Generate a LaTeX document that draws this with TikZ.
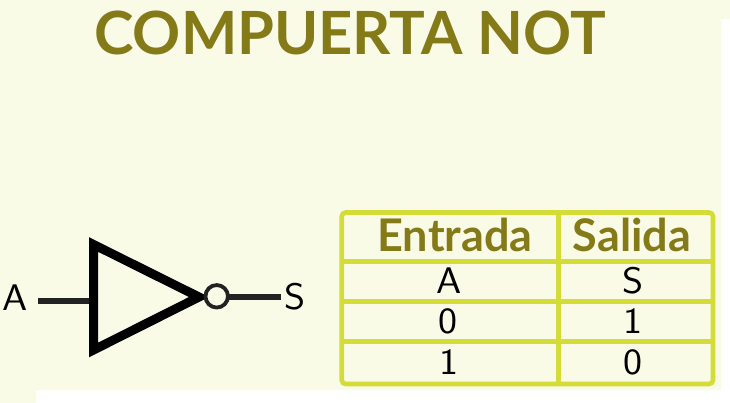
\documentclass[tikz,border=0pt]{standalone}
\usepackage{fontspec}
\newfontfamily\latofont{Lato}
\definecolor{bgcream}{HTML}{F9FBE7}
\definecolor{olive}{HTML}{857A18}
\definecolor{tableline}{HTML}{D4DC38}
\definecolor{wirecol}{HTML}{222222}
\newcommand{\cellt}[1]{\scalebox{1.09}[1]{#1}}
\tikzset{
  title/.style={inner sep=0pt,anchor=base,text=olive,font=\latofont\bfseries\fontsize{59.6}{62}\selectfont},
  header/.style={inner sep=0pt,anchor=base,text=olive,font=\latofont\bfseries\fontsize{45}{48}\selectfont},
  cell/.style={inner sep=0pt,anchor=base,text=black,font=\sffamily\fontsize{37}{39}\selectfont},
  wire/.style={draw=wirecol,line width=6pt},
  gridline/.style={draw=tableline,line width=4.6pt},
  gate/.style={draw=black,line width=9pt,miter limit=10,line join=miter},
  bubble/.style={circle,draw=wirecol,line width=3.8pt,fill=bgcream,minimum size=22.5pt,inner sep=0pt}
}
\begin{document}
\begin{tikzpicture}[x=1pt,y=-1pt]
\useasboundingbox (0,0) rectangle (730,403);
\fill[white] (0,0) rectangle (730,403);
\fill[bgcream] (0,0) -- (730,0) -- (730,19) -- (721,19) -- (721,390) -- (36,390) -- (36,403) -- (0,403) -- cycle;
\node[title] (titulo) at (350,55) {COMPUERTA NOT};
% gate
\coordinate (wa) at (38,301.3);
\coordinate (wb) at (91,301.3);
\coordinate (wc) at (229,297.3);
\coordinate (wd) at (281,297.3);
\draw[wire] (wa) -- (wb);
\draw[wire] (wc) -- (wd);
\coordinate (g1) at (93.5,244.5);
\coordinate (g2) at (199,297);
\coordinate (g3) at (93.5,350);
\draw[gate] (g1) -- (g2) -- (g3) -- cycle;
\node[bubble] (neg) at (216.7,296.3) {};
\node[cell] (la) at (15.5,310.7) {\cellt{A}};
\node[cell] (ls) at (295,309.5) {\cellt{S}};
% table
\coordinate (tl) at (341.7,212.5);
\coordinate (br) at (713,384);
\draw[gridline,rounded corners=4pt] (tl) rectangle (br);
\coordinate (v1) at (558.3,212.5);
\coordinate (v2) at (558.3,384);
\draw[gridline] (v1) -- (v2);
\coordinate (h1a) at (341.7,261.3);
\coordinate (h1b) at (713,261.3);
\coordinate (h2a) at (341.7,301.3);
\coordinate (h2b) at (713,301.3);
\coordinate (h3a) at (341.7,341.7);
\coordinate (h3b) at (713,341.7);
\draw[gridline] (h1a) -- (h1b);
\draw[gridline] (h2a) -- (h2b);
\draw[gridline] (h3a) -- (h3b);
\node[header] (hent) at (455,251.7) {Entrada};
\node[header] (hsal) at (632,251.7) {Salida};
\node[cell] (ca) at (449.5,293.3) {\cellt{A}};
\node[cell] (cs) at (633,293) {\cellt{S}};
\node[cell] (c0) at (448,333.3) {\cellt{0}};
\node[cell] (c1) at (632.7,333.3) {\cellt{1}};
\node[cell] (d1) at (449,374) {\cellt{1}};
\node[cell] (d0) at (632.7,374) {\cellt{0}};
\end{tikzpicture}
\end{document}
